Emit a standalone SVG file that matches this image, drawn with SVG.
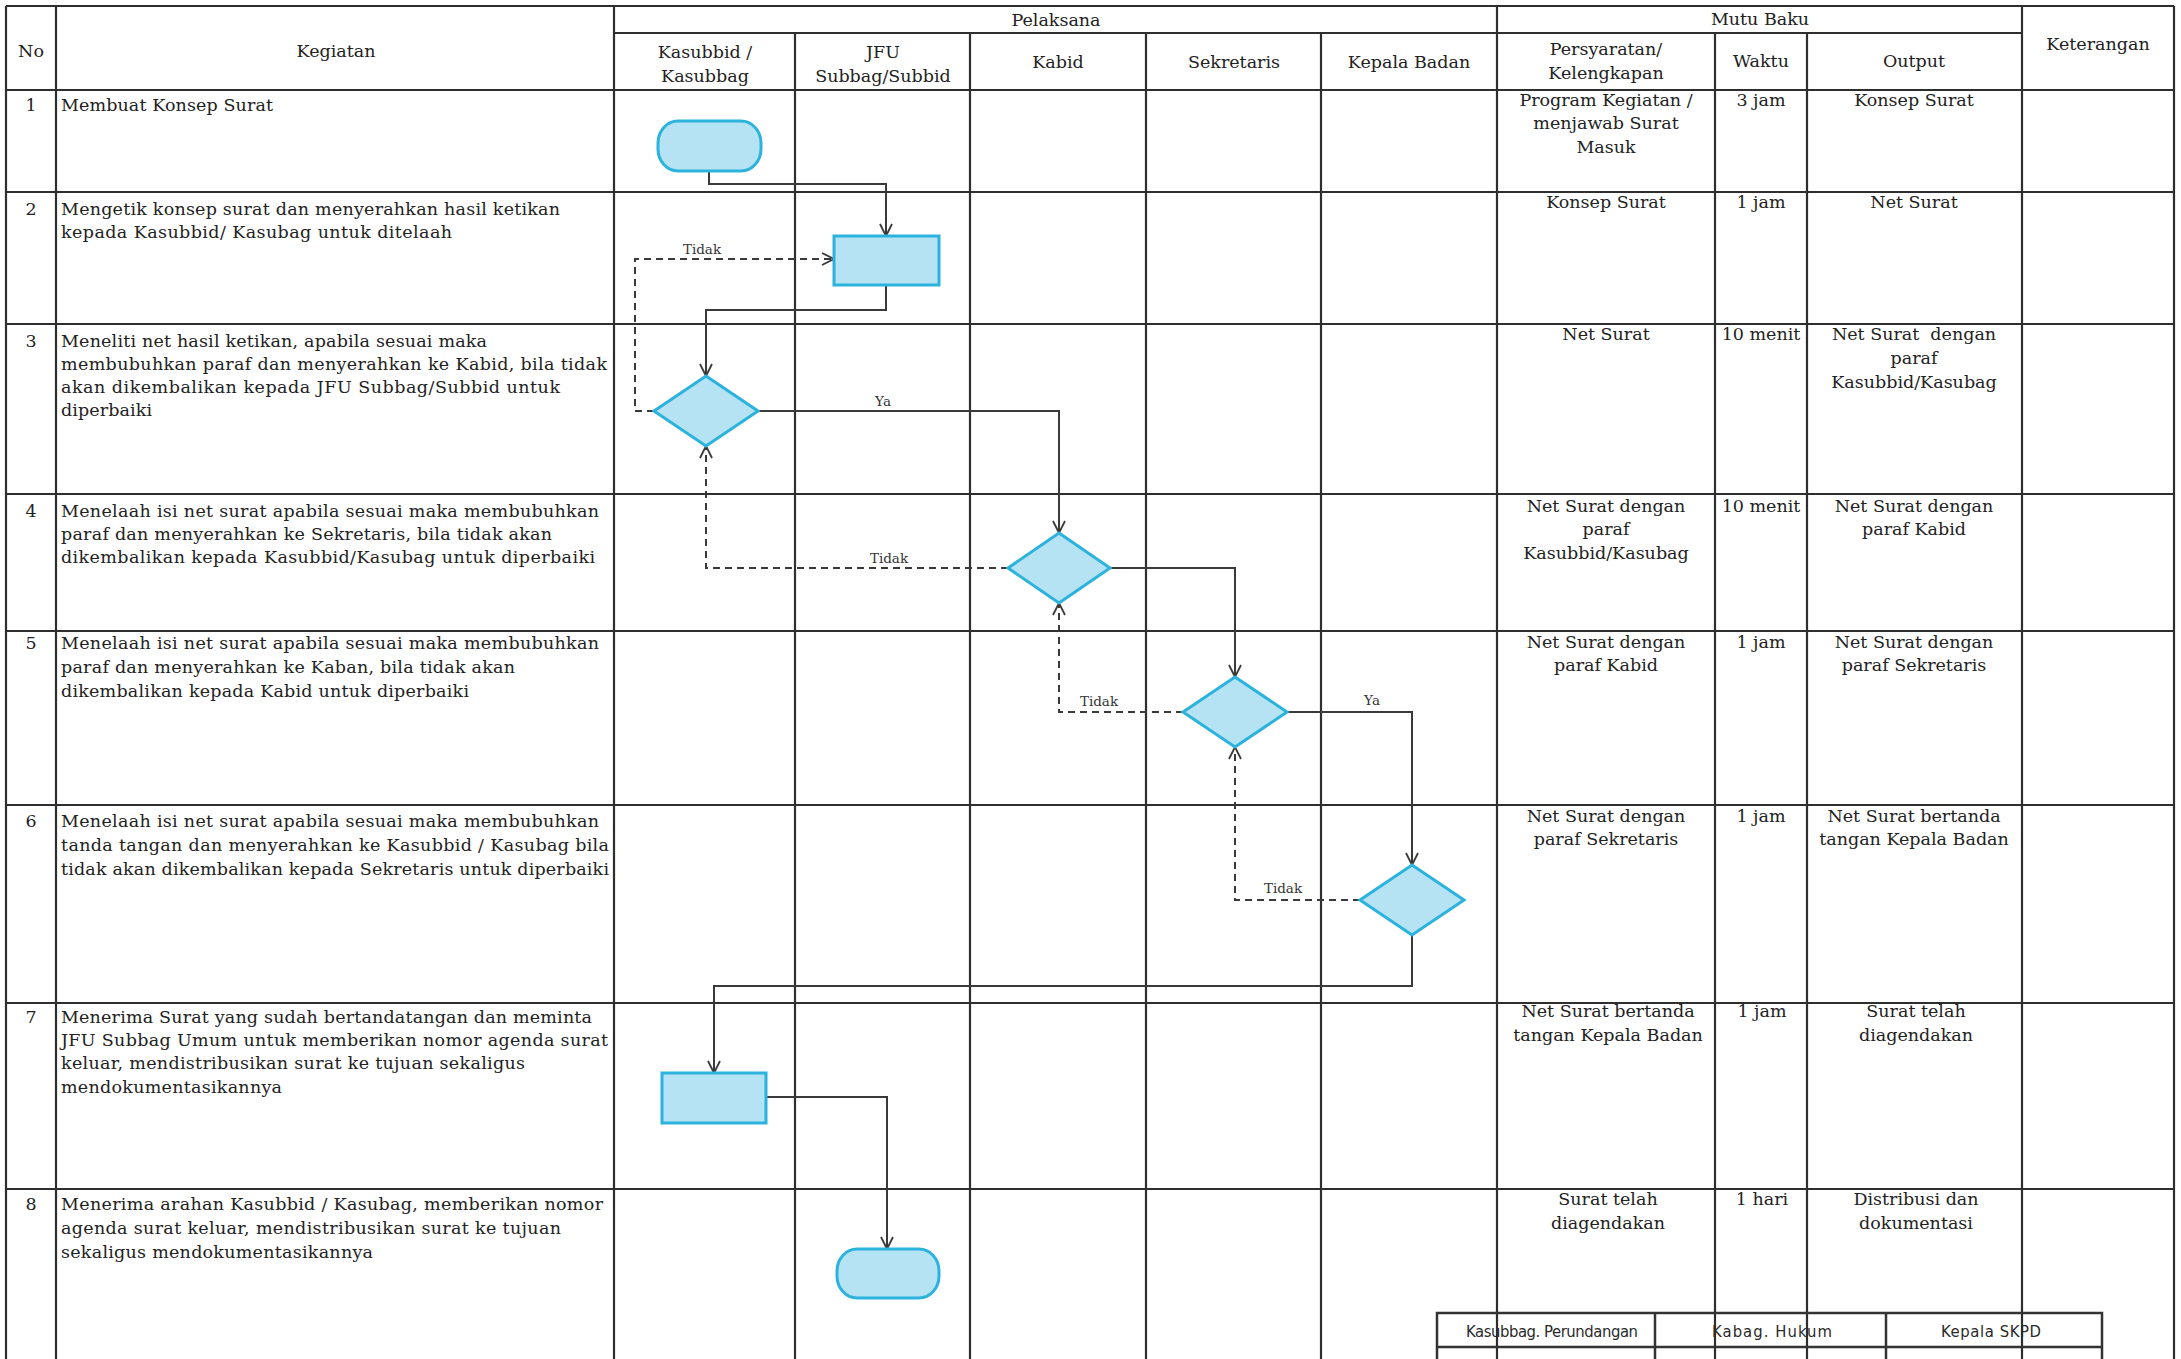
<svg xmlns="http://www.w3.org/2000/svg" width="2181" height="1359" viewBox="0 0 2181 1359">
<style>
.grid line{stroke:#2e2e2e;stroke-width:2.2;fill:none}
.t{font-family:"DejaVu Serif","Liberation Serif",serif;font-size:17.5px;fill:#222}
.c{text-anchor:middle}
.lbl{font-family:"DejaVu Serif","Liberation Serif",serif;font-size:13.5px;fill:#333;text-anchor:middle}
.shape{fill:#b5e3f4;stroke:#2bb3dd;stroke-width:3}
.conn{fill:none;stroke:#3a3a3a;stroke-width:2;marker-end:url(#arr)}
.dash{stroke-dasharray:7 5}
.stamp line,.stamp rect{stroke:#333;stroke-width:2.5;fill:none}
.st{font-family:"Liberation Sans Narrow","DejaVu Sans Condensed","Liberation Sans",sans-serif;font-size:16.5px;fill:#2a2a2a;text-anchor:middle}
</style>
<defs>
<marker id="arr" viewBox="0 0 14 14" refX="13" refY="7" markerWidth="14" markerHeight="14" markerUnits="userSpaceOnUse" orient="auto">
<path d="M1,1 L13,7 L1,13" fill="none" stroke="#3a3a3a" stroke-width="1.8" stroke-dasharray="none"/>
</marker>
</defs>
<rect x="0" y="0" width="2181" height="1359" fill="#ffffff"/>

<g id="table" class="grid">
<line x1="6" y1="6" x2="2174" y2="6"/>
<line x1="614" y1="33" x2="2022" y2="33"/>
<line x1="6" y1="90" x2="2174" y2="90"/>
<line x1="6" y1="192" x2="2174" y2="192"/>
<line x1="6" y1="324" x2="2174" y2="324"/>
<line x1="6" y1="494" x2="2174" y2="494"/>
<line x1="6" y1="631" x2="2174" y2="631"/>
<line x1="6" y1="805" x2="2174" y2="805"/>
<line x1="6" y1="1003" x2="2174" y2="1003"/>
<line x1="6" y1="1189" x2="2174" y2="1189"/>
<line x1="6" y1="6" x2="6" y2="1359"/>
<line x1="56" y1="6" x2="56" y2="1359"/>
<line x1="614" y1="6" x2="614" y2="1359"/>
<line x1="795" y1="33" x2="795" y2="1359"/>
<line x1="970" y1="33" x2="970" y2="1359"/>
<line x1="1146" y1="33" x2="1146" y2="1359"/>
<line x1="1321" y1="33" x2="1321" y2="1359"/>
<line x1="1497" y1="6" x2="1497" y2="1359"/>
<line x1="1715" y1="33" x2="1715" y2="1359"/>
<line x1="1807" y1="33" x2="1807" y2="1359"/>
<line x1="2022" y1="6" x2="2022" y2="1359"/>
<line x1="2174" y1="6" x2="2174" y2="1359"/>
</g>

<g id="headers">
<text class="t c" x="31" y="57">No</text>
<text class="t c" x="336" y="57">Kegiatan</text>
<text class="t c" x="1056" y="26">Pelaksana</text>
<text class="t c" x="1760" y="25">Mutu Baku</text>
<text class="t c" x="2098" y="50">Keterangan</text>
<text class="t c" x="705" y="58">Kasubbid /</text>
<text class="t c" x="705" y="82">Kasubbag</text>
<text class="t c" x="883" y="58">JFU</text>
<text class="t c" x="883" y="82">Subbag/Subbid</text>
<text class="t c" x="1058" y="68">Kabid</text>
<text class="t c" x="1234" y="68">Sekretaris</text>
<text class="t c" x="1409" y="68">Kepala Badan</text>
<text class="t c" x="1606" y="55">Persyaratan/</text>
<text class="t c" x="1606" y="79">Kelengkapan</text>
<text class="t c" x="1761" y="67">Waktu</text>
<text class="t c" x="1914" y="67">Output</text>
</g>

<g id="numbers">
<text class="t c" x="31" y="111">1</text>
<text class="t c" x="31" y="215">2</text>
<text class="t c" x="31" y="347">3</text>
<text class="t c" x="31" y="517">4</text>
<text class="t c" x="31" y="649">5</text>
<text class="t c" x="31" y="827">6</text>
<text class="t c" x="31" y="1023">7</text>
<text class="t c" x="31" y="1210">8</text>
</g>

<g id="activities">
<text class="t" x="61" y="111" textLength="212">Membuat Konsep Surat</text>
<text class="t" x="61" y="215" textLength="499">Mengetik konsep surat dan menyerahkan hasil ketikan</text>
<text class="t" x="61" y="238" textLength="391">kepada Kasubbid/ Kasubag untuk ditelaah</text>
<text class="t" x="61" y="347" textLength="426">Meneliti net hasil ketikan, apabila sesuai maka</text>
<text class="t" x="61" y="370" textLength="546">membubuhkan paraf dan menyerahkan ke Kabid, bila tidak</text>
<text class="t" x="61" y="393" textLength="499">akan dikembalikan kepada JFU Subbag/Subbid untuk</text>
<text class="t" x="61" y="416" textLength="91">diperbaiki</text>
<text class="t" x="61" y="517" textLength="538">Menelaah isi net surat apabila sesuai maka membubuhkan</text>
<text class="t" x="61" y="540" textLength="491">paraf dan menyerahkan ke Sekretaris, bila tidak akan</text>
<text class="t" x="61" y="563" textLength="534">dikembalikan kepada Kasubbid/Kasubag untuk diperbaiki</text>
<text class="t" x="61" y="649" textLength="538">Menelaah isi net surat apabila sesuai maka membubuhkan</text>
<text class="t" x="61" y="673" textLength="454">paraf dan menyerahkan ke Kaban, bila tidak akan</text>
<text class="t" x="61" y="697" textLength="408">dikembalikan kepada Kabid untuk diperbaiki</text>
<text class="t" x="61" y="827" textLength="538">Menelaah isi net surat apabila sesuai maka membubuhkan</text>
<text class="t" x="61" y="851" textLength="548">tanda tangan dan menyerahkan ke Kasubbid / Kasubag bila</text>
<text class="t" x="61" y="875" textLength="548">tidak akan dikembalikan kepada Sekretaris untuk diperbaiki</text>
<text class="t" x="61" y="1023" textLength="531">Menerima Surat yang sudah bertandatangan dan meminta</text>
<text class="t" x="61" y="1046" textLength="547">JFU Subbag Umum untuk memberikan nomor agenda surat</text>
<text class="t" x="61" y="1069" textLength="464">keluar, mendistribusikan surat ke tujuan sekaligus</text>
<text class="t" x="61" y="1093" textLength="221">mendokumentasikannya</text>
<text class="t" x="61" y="1210" textLength="542">Menerima arahan Kasubbid / Kasubag, memberikan nomor</text>
<text class="t" x="61" y="1234" textLength="500">agenda surat keluar, mendistribusikan surat ke tujuan</text>
<text class="t" x="61" y="1258" textLength="312">sekaligus mendokumentasikannya</text>
</g>

<g id="mutu-baku">
<text class="t c" x="1606" y="106">Program Kegiatan /</text>
<text class="t c" x="1606" y="129">menjawab Surat</text>
<text class="t c" x="1606" y="153">Masuk</text>
<text class="t c" x="1761" y="106">3 jam</text>
<text class="t c" x="1914" y="106">Konsep Surat</text>

<text class="t c" x="1606" y="208">Konsep Surat</text>
<text class="t c" x="1761" y="208">1 jam</text>
<text class="t c" x="1914" y="208">Net Surat</text>

<text class="t c" x="1606" y="340">Net Surat</text>
<text class="t c" x="1761" y="340">10 menit</text>
<text class="t c" x="1914" y="340" xml:space="preserve">Net Surat  dengan</text>
<text class="t c" x="1914" y="364">paraf</text>
<text class="t c" x="1914" y="388">Kasubbid/Kasubag</text>

<text class="t c" x="1606" y="512">Net Surat dengan</text>
<text class="t c" x="1606" y="535">paraf</text>
<text class="t c" x="1606" y="559">Kasubbid/Kasubag</text>
<text class="t c" x="1761" y="512">10 menit</text>
<text class="t c" x="1914" y="512">Net Surat dengan</text>
<text class="t c" x="1914" y="535">paraf Kabid</text>

<text class="t c" x="1606" y="648">Net Surat dengan</text>
<text class="t c" x="1606" y="671">paraf Kabid</text>
<text class="t c" x="1761" y="648">1 jam</text>
<text class="t c" x="1914" y="648">Net Surat dengan</text>
<text class="t c" x="1914" y="671">paraf Sekretaris</text>

<text class="t c" x="1606" y="822">Net Surat dengan</text>
<text class="t c" x="1606" y="845">paraf Sekretaris</text>
<text class="t c" x="1761" y="822">1 jam</text>
<text class="t c" x="1914" y="822">Net Surat bertanda</text>
<text class="t c" x="1914" y="845">tangan Kepala Badan</text>

<text class="t c" x="1608" y="1017">Net Surat bertanda</text>
<text class="t c" x="1608" y="1041">tangan Kepala Badan</text>
<text class="t c" x="1762" y="1017">1 jam</text>
<text class="t c" x="1916" y="1017">Surat telah</text>
<text class="t c" x="1916" y="1041">diagendakan</text>

<text class="t c" x="1608" y="1205">Surat telah</text>
<text class="t c" x="1608" y="1229">diagendakan</text>
<text class="t c" x="1762" y="1205">1 hari</text>
<text class="t c" x="1916" y="1205">Distribusi dan</text>
<text class="t c" x="1916" y="1229">dokumentasi</text>
</g>

<g id="connectors">
<path class="conn" d="M709,171 V184 H886 V236"/>
<path class="conn" d="M886,285 V310 H706 V376"/>
<path class="conn dash" d="M654,411 H635 V259 H834"/>
<path class="conn" d="M758,411 H1059 V533"/>
<path class="conn dash" d="M1008,568 H706 V446"/>
<path class="conn" d="M1110,568 H1235 V677"/>
<path class="conn dash" d="M1183,712 H1059 V603"/>
<path class="conn" d="M1287,712 H1412 V865"/>
<path class="conn dash" d="M1360,900 H1235 V747"/>
<path class="conn" d="M1412,935 V986 H714 V1073"/>
<path class="conn" d="M766,1097 H887 V1249"/>
<text class="lbl" x="702" y="254">Tidak</text>
<text class="lbl" x="883" y="406">Ya</text>
<text class="lbl" x="889" y="563">Tidak</text>
<text class="lbl" x="1099" y="706">Tidak</text>
<text class="lbl" x="1372" y="705">Ya</text>
<text class="lbl" x="1283" y="893">Tidak</text>
</g>

<g id="node-start"><rect class="shape" x="658" y="121" width="103" height="50" rx="20" ry="22"/></g>
<g id="node-ketik"><rect class="shape" x="834" y="236" width="105" height="49"/></g>
<g id="node-cek-kasubbid"><polygon class="shape" points="706,376 758,411 706,446 654,411"/></g>
<g id="node-cek-kabid"><polygon class="shape" points="1059,533 1110,568 1059,603 1008,568"/></g>
<g id="node-cek-sekretaris"><polygon class="shape" points="1235,677 1287,712 1235,747 1183,712"/></g>
<g id="node-cek-kaban"><polygon class="shape" points="1412,865 1464,900 1412,935 1360,900"/></g>
<g id="node-terima"><rect class="shape" x="662" y="1073" width="104" height="50"/></g>
<g id="node-end"><rect class="shape" x="837" y="1249" width="102" height="49" rx="20" ry="22"/></g>

<g id="stamp" class="stamp">
<rect x="1437" y="1313" width="665" height="60"/>
<line x1="1437" y1="1347" x2="2102" y2="1347"/>
<line x1="1655" y1="1313" x2="1655" y2="1359"/>
<line x1="1886" y1="1313" x2="1886" y2="1359"/>
<text class="st" x="1552" y="1337" textLength="172">Kasubbag. Perundangan</text>
<text class="st" x="1772" y="1337" textLength="120">Kabag. Hukum</text>
<text class="st" x="1991" y="1337" textLength="100">Kepala SKPD</text>
</g>
</svg>
